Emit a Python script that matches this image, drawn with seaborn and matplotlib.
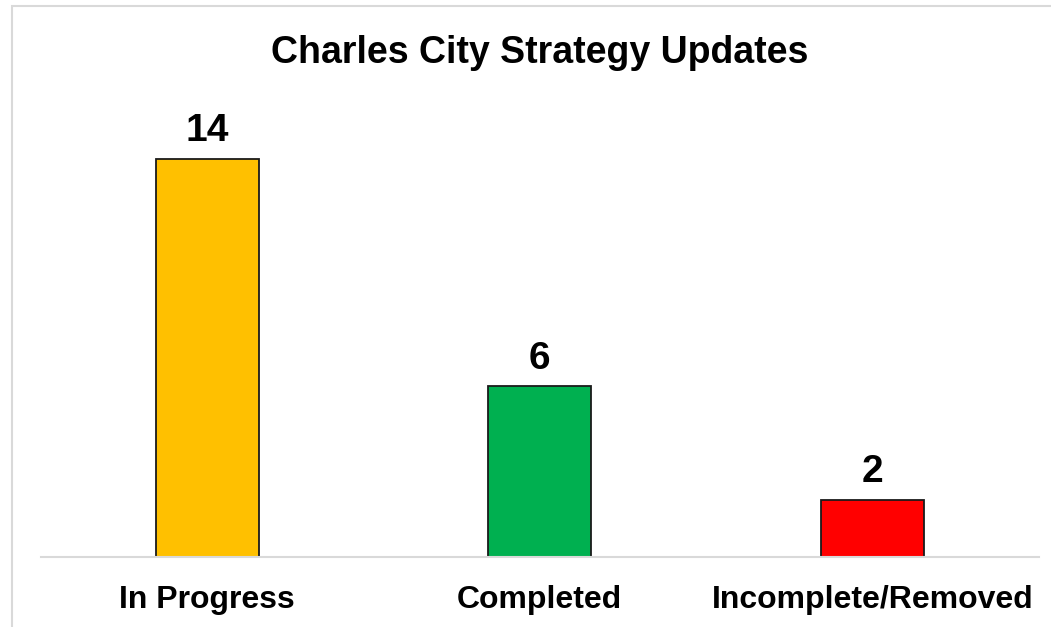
import matplotlib
matplotlib.use("Agg")
import matplotlib.pyplot as plt
import seaborn as sns
import pandas as pd
from matplotlib.patches import Rectangle

categories = ["In Progress", "Completed", "Incomplete/Removed"]
values = [14, 6, 2]
colors = ["#FFC000", "#00B050", "#FF0000"]
title = "Charles City Strategy Updates"

sns.set_theme(style="white")
plt.rcParams['font.family'] = ['Liberation Sans', 'DejaVu Sans']

df = pd.DataFrame({"category": categories, "value": values})

fig = plt.figure(figsize=(10.51, 6.27), dpi=100)
ax = fig.add_axes([41/1051, 70/627, 997.5/1051, 455/627])

sns.barplot(data=df, x="category", y="value", hue="category",
            palette=colors, width=0.31, edgecolor="#1a1a1a", linewidth=1.3,
            legend=False, ax=ax, saturation=1)

for c in ax.containers:
    ax.bar_label(c, fontsize=28, fontweight="bold", padding=7, color="black")

ax.set_ylim(0, 16)
ax.set_xlim(-0.5, 2.5)
ax.set_xlabel("")
ax.set_ylabel("")
ax.set_yticks([])
for s in ["top", "left", "right"]:
    ax.spines[s].set_visible(False)
ax.spines["bottom"].set_color("#D9D9D9")
ax.spines["bottom"].set_linewidth(1.5)
ax.tick_params(axis="x", length=0, pad=20, labelsize=23)
for lab in ax.get_xticklabels():
    lab.set_fontweight("bold")
    lab.set_color("black")

fig.text(540/1051, 1 - 53/627, title, ha="center", va="center",
         fontsize=27, fontweight="bold", color="black")

fig.patches.append(Rectangle((12/1051, -0.2), 1.2, 0.2 + 1 - 6/627,
                             transform=fig.transFigure, fill=False,
                             edgecolor="#D9D9D9", linewidth=1.5))

fig.savefig("out.png", dpi=100, facecolor="white")
